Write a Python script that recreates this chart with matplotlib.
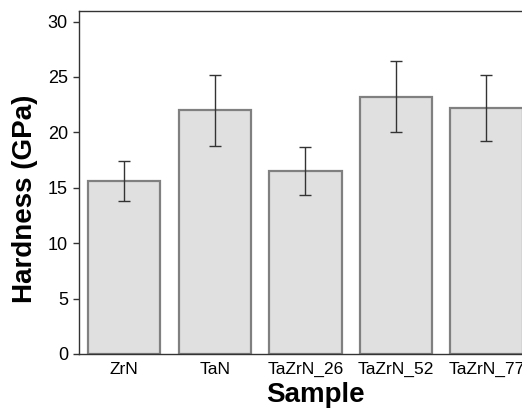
import matplotlib
matplotlib.use("Agg")
import matplotlib.pyplot as plt

samples = ["ZrN", "TaN", "TaZrN_26", "TaZrN_52", "TaZrN_77"]
hardness = [15.6, 22.0, 16.5, 23.2, 22.2]
errors = [1.8, 3.2, 2.15, 3.2, 3.0]
yticks = [0, 5, 10, 15, 20, 25, 30]

plt.rcParams['font.family'] = ['Liberation Sans', 'DejaVu Sans']

W, H = 522, 408
fig = plt.figure(figsize=(W / 100, H / 100), dpi=100)
left, right, top, bottom = 79, 531.75, 10.5, 354
ax = fig.add_axes([left / W, (H - bottom) / H, (right - left) / W, (bottom - top) / H])

x = list(range(len(samples)))
ax.bar(x, hardness, width=0.8, color='#e0e0e0', edgecolor='#808080', linewidth=1.6,
       yerr=errors, error_kw=dict(ecolor='#333333', elinewidth=1.0, capsize=4, capthick=1.0),
       zorder=2)

ax.set_xlim(-0.5, 4.5)
ax.set_ylim(0, 31)
ax.set_yticks(yticks)
ax.set_xticks(x)
ax.set_xticklabels(samples, fontsize=12.5)
ax.tick_params(axis='y', labelsize=13, length=4, width=1, pad=4, color='#333333')
ax.tick_params(axis='x', length=0, pad=6)

for s in ['left', 'top', 'bottom', 'right']:
    ax.spines[s].set_color('#333333')
    ax.spines[s].set_linewidth(1.0)

ax.set_xlabel("Sample", fontsize=20, fontweight='bold')
ax.set_ylabel("Hardness (GPa)", fontsize=20, fontweight='bold')
ax.xaxis.set_label_coords((315.7 - left) / (right - left), -(402 - bottom) / (bottom - top))
ax.yaxis.set_label_coords(-(left - 25) / (right - left), (bottom - 199) / (bottom - top))
ax.xaxis.label.set_va('baseline')
ax.yaxis.label.set_va('center')

fig.savefig("out.png", dpi=100)
